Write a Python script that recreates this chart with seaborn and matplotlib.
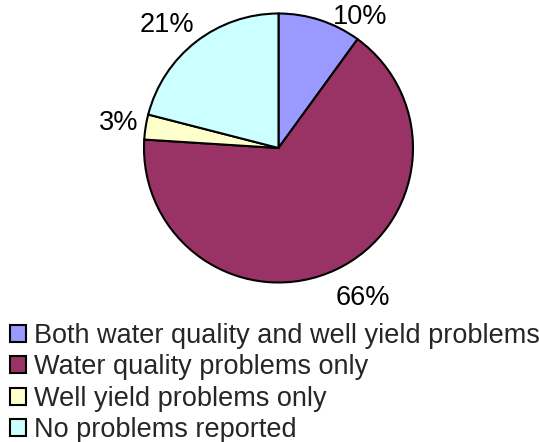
import numpy as np
import matplotlib
matplotlib.use("Agg")
import matplotlib.pyplot as plt
import seaborn as sns

sns.set_theme(style="white")
plt.rcParams["font.family"] = ["Liberation Sans", "DejaVu Sans"]

categories = [
    "Both water quality and well yield problems",
    "Water quality problems only",
    "Well yield problems only",
    "No problems reported",
]
shares = [10, 66, 3, 21]
colors = ["#9999FF", "#993366", "#FFFFCC", "#CCFFFF"]

# label placement around the pie: (radius in pie units, angle in degrees)
label_radius = [1.145, 1.28, 1.2, 1.235]
label_angle = [58, -60.6, 171, 132.3]

W, H = 539, 442
fig = plt.figure(figsize=(W / 100, H / 100), dpi=100)
cx, cy, r = 278.5, 148, 134.5
ax = fig.add_axes([(cx - r) / W, 1 - (cy + r) / H, 2 * r / W, 2 * r / H])

wedges, _ = ax.pie(
    shares,
    colors=colors,
    startangle=90,
    counterclock=False,
    wedgeprops=dict(edgecolor="black", linewidth=1.5),
)
ax.set_xlim(-1, 1)
ax.set_ylim(-1, 1)
ax.set_aspect("equal")

for v, rad, ang in zip(shares, label_radius, label_angle):
    t = np.deg2rad(ang)
    ax.text(rad * np.cos(t), rad * np.sin(t), f"{v}%", ha="center", va="center",
            fontsize=19.5, color="black", clip_on=False)

leg = fig.legend(
    wedges, categories,
    loc="upper left", bbox_to_anchor=(10 / W, 1 - 323 / H),
    frameon=False, fontsize=19.5,
    handlelength=0.6, handleheight=0.6, handletextpad=0.28,
    labelspacing=0.2, borderaxespad=0, borderpad=0,
)
for h in leg.legend_handles:
    h.set_linewidth(1.5)
    h.set_edgecolor("black")

fig.savefig("out.png", dpi=100)
